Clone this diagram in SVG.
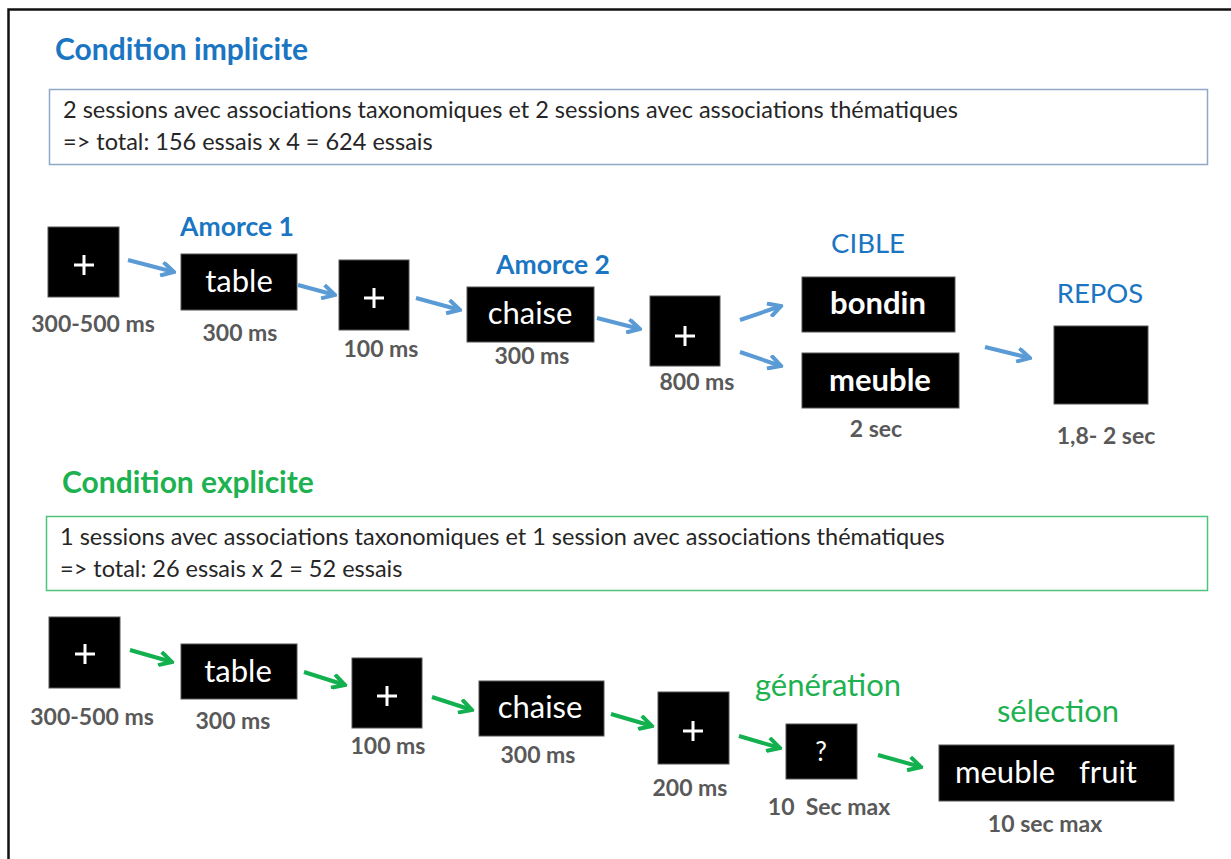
<svg xmlns="http://www.w3.org/2000/svg" width="1231" height="859" viewBox="0 0 1231 859">
<style>
text{font-family:Lato,"Open Sans","Liberation Sans",sans-serif}
.title-b{font-size:30px;font-weight:bold;fill:#1A75C2}
.title-g{font-size:30px;font-weight:bold;fill:#1DB14F}
.info{font-size:23.5px;fill:#262626}
.lbl{font-size:23px;font-weight:bold;fill:#595959;text-anchor:middle}
.blue{font-size:27.5px;fill:#1A75C2;text-anchor:middle}
.blueb{font-size:26.5px;font-weight:bold;fill:#1A75C2;text-anchor:middle}
.green{font-size:31px;fill:#1DB14F;text-anchor:middle}
.box{fill:#000;stroke:#555;stroke-width:1}
.w{font-size:31px;fill:#fff;text-anchor:middle}
.wb{font-size:31px;font-weight:bold;fill:#fff;text-anchor:middle}
.plus{stroke:#fff;stroke-width:3}
.ab{stroke:#5B9BD5;stroke-width:4;fill:none;marker-end:url(#hb)}
.ag{stroke:#12B04E;stroke-width:4;fill:none;marker-end:url(#hg)}
</style>
<defs>
<marker id="hb" viewBox="0 0 14 14" refX="12" refY="7" markerWidth="16" markerHeight="16" markerUnits="userSpaceOnUse" orient="auto">
<path d="M1,1 L12,7 L1,13" fill="none" stroke="#5B9BD5" stroke-width="3.5"/>
</marker>
<marker id="hg" viewBox="0 0 14 14" refX="12" refY="7" markerWidth="16" markerHeight="16" markerUnits="userSpaceOnUse" orient="auto">
<path d="M1,1 L12,7 L1,13" fill="none" stroke="#12B04E" stroke-width="3.5"/>
</marker>
</defs>
<rect x="0" y="0" width="1231" height="859" fill="#fff"/>
<rect x="8.5" y="9.5" width="1240" height="870" fill="none" stroke="#111" stroke-width="2.5"/>

<g id="implicit-title"><text class="title-b" x="55" y="60">Condition implicite</text></g>
<g id="implicit-info">
<rect x="49.5" y="89.5" width="1158" height="75" fill="#fff" stroke="#8FA8C8" stroke-width="1.5"/>
<text class="info" x="63" y="118">2 sessions avec associations taxonomiques et 2 sessions avec associations thématiques</text>
<text class="info" x="63" y="150">=&gt; total: 156 essais x 4 = 624 essais</text>
</g>

<g id="i-fix1"><rect class="box" x="48" y="227" width="71" height="70"/><path class="plus" d="M74,265 H94 M84,255 V275"/><text class="lbl" x="93" y="332">300-500 ms</text></g>
<g id="i-table"><text class="blueb" x="237" y="236">Amorce 1</text><rect class="box" x="181" y="254" width="116" height="56"/><text class="w" x="239" y="292">table</text><text class="lbl" x="240" y="341">300 ms</text></g>
<g id="i-fix2"><rect class="box" x="339" y="260" width="70" height="70"/><path class="plus" d="M364,298 H384 M374,288 V308"/><text class="lbl" x="381" y="357">100 ms</text></g>
<g id="i-chaise"><text class="blueb" x="553" y="274">Amorce 2</text><rect class="box" x="467" y="287" width="127" height="55"/><text class="w" x="530" y="324">chaise</text><text class="lbl" x="532" y="364">300 ms</text></g>
<g id="i-fix3"><rect class="box" x="650" y="296" width="70" height="70"/><path class="plus" d="M675,336 H695 M685,326 V346"/><text class="lbl" x="697" y="390">800 ms</text></g>
<g id="i-cible"><text class="blue" x="868" y="253">CIBLE</text>
<rect class="box" x="802" y="277" width="153" height="55"/><text class="wb" x="878" y="314">bondin</text>
<rect class="box" x="802" y="353" width="157" height="55"/><text class="wb" x="880" y="391">meuble</text>
<text class="lbl" x="876" y="437">2 sec</text></g>
<g id="i-repos"><text class="blue" x="1100" y="303">REPOS</text><rect class="box" x="1054" y="326" width="94" height="78"/><text class="lbl" x="1106" y="444">1,8- 2 sec</text></g>

<g id="explicit-title"><text class="title-g" x="62" y="493">Condition explicite</text></g>
<g id="explicit-info">
<rect x="46.5" y="516.5" width="1161" height="74" fill="#fff" stroke="#4CC47A" stroke-width="1.5"/>
<text class="info" x="60" y="545">1 sessions avec associations taxonomiques et 1 session avec associations thématiques</text>
<text class="info" x="60" y="577">=&gt; total: 26 essais x 2 = 52 essais</text>
</g>

<g id="e-fix1"><rect class="box" x="49" y="617" width="71" height="71"/><path class="plus" d="M75,654 H95 M85,644 V664"/><text class="lbl" x="92" y="725">300-500 ms</text></g>
<g id="e-table"><rect class="box" x="181" y="644" width="116" height="55"/><text class="w" x="238" y="682">table</text><text class="lbl" x="233" y="729">300 ms</text></g>
<g id="e-fix2"><rect class="box" x="352" y="658" width="70" height="70"/><path class="plus" d="M377,696 H397 M387,686 V706"/><text class="lbl" x="388" y="754">100 ms</text></g>
<g id="e-chaise"><rect class="box" x="479" y="681" width="125" height="55"/><text class="w" x="540" y="718">chaise</text><text class="lbl" x="538" y="763">300 ms</text></g>
<g id="e-fix3"><rect class="box" x="658" y="692" width="71" height="72"/><path class="plus" d="M683,731 H703 M693,721 V741"/><text class="lbl" x="690" y="796">200 ms</text></g>
<g id="e-generation"><text class="green" x="828" y="696">génération</text><rect class="box" x="786" y="724" width="71" height="55"/><text class="w" x="821" y="761" style="font-size:26px">?</text><text class="lbl" x="829" y="815" xml:space="preserve">10  Sec max</text></g>
<g id="e-selection"><text class="green" x="1058" y="722">sélection</text><rect class="box" x="939" y="745" width="235" height="56"/><text class="w" x="955" y="783" style="text-anchor:start" xml:space="preserve">meuble   fruit</text><text class="lbl" x="1045" y="832">10 sec max</text></g>

<g id="connectors">
<line class="ab" x1="128" y1="260" x2="174" y2="272"/>
<line class="ab" x1="298" y1="285" x2="335" y2="295"/>
<line class="ab" x1="416" y1="298" x2="460" y2="310"/>
<line class="ab" x1="597" y1="318" x2="640" y2="329"/>
<line class="ab" x1="740" y1="320" x2="781" y2="306"/>
<line class="ab" x1="740" y1="352" x2="781" y2="366"/>
<line class="ab" x1="985" y1="347" x2="1030" y2="358"/>
<line class="ag" x1="130" y1="650" x2="172" y2="662"/>
<line class="ag" x1="304" y1="672" x2="345" y2="685"/>
<line class="ag" x1="432" y1="697" x2="472" y2="710"/>
<line class="ag" x1="611" y1="714" x2="652" y2="726"/>
<line class="ag" x1="739" y1="736" x2="780" y2="748"/>
<line class="ag" x1="878" y1="755" x2="921" y2="767"/>
</g>
</svg>
